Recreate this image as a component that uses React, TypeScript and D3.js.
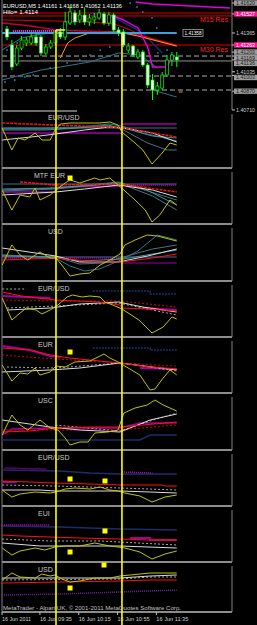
import React from "react";
import * as d3 from "d3";

type P = [number, number];

// ---------- main chart (EURUSD M5) ----------
const candleOpen = [1.41399,1.41263,1.41101,1.41237,1.41280,1.41280,1.41331,1.41331,1.41195,1.41246,1.41280,1.41374,1.41331,1.41450,1.41535,1.41476,1.41518,1.41459,1.41476,1.41493,1.41527,1.41450,1.41518,1.41391,1.41374,1.41220,1.41254,1.41161,1.41203,1.41093,1.40965,1.40880,1.40897,1.41008,1.41135,1.41161];
const candleHigh = [1.41425,1.41305,1.41263,1.41339,1.41331,1.41365,1.41356,1.41348,1.41271,1.41305,1.41391,1.41408,1.41544,1.41603,1.41561,1.41561,1.41578,1.41527,1.41535,1.41569,1.41544,1.41544,1.41535,1.41416,1.41399,1.41280,1.41263,1.41229,1.41220,1.41110,1.41016,1.40948,1.41033,1.41178,1.41203,1.41203];
const candleLow = [1.41305,1.41050,1.41084,1.41220,1.41254,1.41263,1.41254,1.41169,1.41178,1.41229,1.41263,1.41314,1.41305,1.41433,1.41433,1.41450,1.41433,1.41425,1.41442,1.41476,1.41433,1.41425,1.41374,1.41339,1.41246,1.41195,1.41161,1.41144,1.41076,1.40897,1.40795,1.40837,1.40880,1.40991,1.41084,1.41076];
const candleClose = [1.41331,1.41076,1.41237,1.41305,1.41305,1.41331,1.41280,1.41195,1.41246,1.41280,1.41374,1.41331,1.41459,1.41544,1.41459,1.41518,1.41459,1.41493,1.41501,1.41535,1.41450,1.41518,1.41391,1.41365,1.41263,1.41254,1.41178,1.41203,1.41093,1.40922,1.40880,1.40914,1.41008,1.41135,1.41178,1.41136];

const m15Res = [1.41535, 1.41510];
const m30Res = 1.41263;
const cyanLevel = 1.41365;
const dashedLevels = [1.41169, 1.40999, 1.40880];
const bidLevel = 1.41127;

const mainRedA: P[] = [[-1,1.41476],[10,1.41467],[17,1.41459],[22,1.41442],[25,1.41399],[28,1.41339],[31,1.41305],[35,1.41263]];
const mainRedB: P[] = [[-1,1.41450],[5,1.41425],[10,1.41391],[16,1.41382],[22,1.41374],[27,1.41348],[35,1.41254]];
const mainMagenta: P[] = [[21.5,1.41518],[24,1.41476],[27,1.41408],[29,1.41246],[30,1.41076],[33,1.41076],[34,1.41161]];
const mainMagentaTop: P[] = [[26.5,1.41629],[30,1.41612],[46,1.41578]];
const mainOrange: P[] = [[11,1.41152],[12.5,1.41280],[14,1.41322],[17,1.41365],[23,1.41374],[27,1.41339],[35,1.41254]];
const mainNavy: P[] = [[17,1.41535],[22,1.41501],[28,1.41365],[32,1.41195]];
const mainTealLow: P[] = [[-1,1.40965],[7,1.41050],[11,1.41076],[17,1.41118],[23,1.41195],[27.5,1.41178],[31,1.41067]];
const mainTealLow2: P[] = [[30,1.40880],[35,1.40820]];
const mainTealUp: P[] = [[-1,1.41220],[3,1.41322],[7,1.41356],[10,1.41365]];
const mainPinkDots: P[] = [[1.2,1.41382],[10.9,1.41382]];
const mainDots: P[] = [[-0.4,1.40948],[1.6,1.40965],[3.7,1.40991],[5.4,1.41008],[8.9,1.41067],[12.4,1.41110],[15,1.41135],[17.1,1.41178],[19.2,1.41220],[21.2,1.41246],[25.4,1.41620],[26.8,1.41586],[28,1.41544],[29.9,1.41493],[30.9,1.41408],[31.1,1.41195],[33,1.41220],[0,1.41220],[2.1,1.41280]];

const vertBars = [10.1, 23.7];
const vertTopPrices = [1.41391, 1.41365];

const axisPrices = [1.41620, 1.41527, 1.41365, 1.41263, 1.41203, 1.41169, 1.41136, 1.41035, 1.41003, 1.40870, 1.40710];
const axisKinds = ["gray", "pink", "plain", "pink", "gray", "gray", "gray", "plain", "gray", "gray", "plain"];

const timeBars = [-1, 7, 15, 23, 31];
const timeLabels = ["16 Jun 2011", "16 Jun 09:35", "16 Jun 10:15", "16 Jun 10:55", "16 Jun 11:35"];

// ---------- sub windows (bar, level) ----------
const panelLabels = ["EUR/USD", "MTF EUR", "USD", "EUR/USD", "EUR", "USC", "EUR/USD", "EUI", "USD"];

const p1Yellow: P[] = [[-1,40],[1,18],[2.3,30],[3.7,28],[5.8,35],[7.2,28],[8.9,28],[9.9,38],[11,44],[13,45],[15,45],[19,45],[21.2,46],[22.9,43],[23.7,36],[26.4,25],[28,18],[29.9,4],[32,15],[33.6,25],[35,23]];
const p1Red: P[] = [[-1,45],[9.5,43],[21,41],[24,40],[35,31]];
const p1TealA: P[] = [[-1,40],[8,40],[15,41],[21,44],[23.7,42],[28,35],[35,27]];
const p1TealB: P[] = [[-1,38],[8,38],[15,40],[21,43],[24,38],[29,25],[33,18],[35,18]];
const p1TealC: P[] = [[-1,39],[10,39],[21,42],[24,40],[30,32],[35,30]];
const p1White: P[] = [[-1,28],[5,31],[10,34],[16,38],[21,41],[24,40],[30,35],[35,26]];
const p1MagLow: P[] = [[-1,35],[23.5,35]];
const p1MagHigh: P[] = [[23.7,44],[35,44]];
const p1Zero: P[] = [[-1,40],[35,40]];

const p2Yellow: P[] = [[-1,34],[1,14],[2.7,29],[4.7,27],[5.8,36],[6.8,24],[8.9,29],[10.1,34],[12,41],[13,44],[15,41],[18.1,46],[19.2,44],[21.2,46],[22.9,39],[24.1,34],[26.4,24],[28.5,14],[29.9,2],[31.5,9],[33.6,24],[35,19]];
const p2Red: P[] = [[2.7,42],[9.9,39],[23.3,40],[35,32]];
const p2MagDot: P[] = [[23.5,39],[35,39]];
const p2Magenta: P[] = [[-1,32],[9.9,32],[10.5,37],[23.5,38]];
const p2White: P[] = [[-1,29],[10,32],[16,35],[23,39],[30,34],[35,27]];
const p2TealA: P[] = [[-1,34],[10,36],[23,42],[29,33],[35,24]];
const p2TealB: P[] = [[-1,33],[10,35],[23,41],[30,28],[35,14]];
const p2TealC: P[] = [[-1,35],[10,36],[23,41],[28,36],[35,19]];
const p2Zero: P[] = [[-1,40],[35,40]];

const p3Yellow: P[] = [[-1,16],[1,36],[2.7,26],[4.3,21],[6.8,29],[8.9,23],[10.1,23],[11.3,16],[13,5],[15,7],[17.1,8],[19.2,16],[21.2,21],[23.3,27],[24.3,36],[26.4,41],[28.9,46],[31,45],[35,40]];
const p3TealA: P[] = [[-1,26],[10,23],[13,15],[16,10],[19,12],[23,20],[27,30],[31,46],[35,41]];
const p3TealB: P[] = [[-1,26],[10,24],[15,17],[20,18],[24,24],[30,32],[35,36]];
const p3TealC: P[] = [[-1,25],[10,24],[15,20],[24,22],[30,27],[35,31]];
const p3White: P[] = [[-1,33],[10,25],[15,19],[23,19],[29,25],[35,32]];
const p3Red: P[] = [[-1,21],[10,23],[19,19],[23.5,19],[30,23],[35,27]];
const p3MagDot: P[] = [[-1,23],[23.5,23]];
const p3Magenta: P[] = [[23.7,18],[35,18]];
const p3Blue: P[] = [[-1,24],[35,24]];

const p4Yellow: P[] = [[-1,39],[1,17],[2.7,24],[4,29],[6,27],[7.2,23],[8.9,27],[10.5,32],[12.4,40],[13.5,42],[15.5,40],[17.1,41],[19.2,40],[20.2,35],[21.8,32],[23.7,28],[27.2,17],[29.9,4],[32.2,10],[34,20],[35,18]];
const p4Red: P[] = [[-1,45],[3,41],[10,37],[19,35],[23.3,32],[23.7,29],[29,28],[35,26]];
const p4RedDot: P[] = [[-1,37],[10,36],[23.3,36],[35,30]];
const p4MagA: P[] = [[-1,41],[9,39]];
const p4MagB: P[] = [[28,29],[35,27]];
const p4White: P[] = [[0,27],[9,29],[15,33],[23,35],[28,30],[35,25]];
const p4GrayDash: P[] = [[0,29],[10,31],[23,34],[35,22]];
const p4Navy: P[] = [[17.7,46],[29.5,46],[29.5,43],[35,43]];
const p4GrayTop: P[] = [[-1,48],[4,48]];

const p5Yellow: P[] = [[-1,28],[1,12],[2.7,20],[4.3,19],[5.8,25],[6.8,18],[8.9,21],[10.1,27],[12,26],[14,31],[17.1,32],[20,39],[21.2,35],[22.9,31],[24.3,27],[27.4,18],[29.5,3],[30.5,4],[32.2,15],[33.6,23],[35,18]];
const p5Red: P[] = [[-1,45],[4.7,43],[8.9,38],[13,35],[17,33],[23.3,30],[29.5,26],[35,24]];
const p5RedDot: P[] = [[-1,38],[7,35],[23.3,30],[35,27]];
const p5MagA: P[] = [[-1,47],[4.7,43],[8.9,37],[11,36]];
const p5MagB: P[] = [[27.4,25],[35,24]];
const p5GrayDash: P[] = [[0,26],[10,25],[23.3,30],[35,22]];
const p5White: P[] = [[-1,21],[8.9,23],[15,25],[23.3,30],[35,23]];
const p5Navy: P[] = [[17.7,45],[29.5,45],[29.5,43],[35,43]];

const p6Yellow: P[] = [[-1,15],[1,35],[2.7,25],[4.3,20],[6.8,30],[8.9,22],[10.5,20],[12,12],[13,5],[15,8],[16.7,8],[18.1,17],[20.8,18],[22.9,20],[24.1,37],[26.4,42],[28.9,45],[30.5,50],[32.2,45],[35,39]];
const p6White: P[] = [[-1,30],[8.9,23],[15,20],[23.3,18],[29.5,30],[35,36]];
const p6GrayDash: P[] = [[10,25],[23.3,19],[29.5,29],[35,37]];
const p6Red: P[] = [[-1,18],[4.7,19],[9.9,22],[17.1,23],[23.3,23],[35,28]];
const p6RedDot: P[] = [[-1,20],[23.3,20],[35,25]];
const p6Magenta: P[] = [[-1,15],[1,21],[9,22],[23.3,22],[27.4,27],[35,27]];
const p6Navy: P[] = [[-1,10],[27.4,10],[29.5,15],[35,15]];

const p7Navy: P[] = [[-1,36],[10.9,35],[17.1,33],[23.3,32],[35,32]];
const p7Red: P[] = [[-1,25],[4.7,24],[9.9,23],[17.1,22],[23.3,21],[32,21],[32.6,20],[35,20]];
const p7GrayDash: P[] = [[-1,21],[9.9,20],[23.3,18],[35,16]];
const p7White: P[] = [[-1,16],[6.8,16],[9.9,15],[23.3,15],[29.5,14],[35,13]];
const p7Yellow: P[] = [[-1,16],[1,9],[2.7,12],[5.8,14],[8.9,13],[10.1,14],[12,17],[14,18],[17.1,17],[19.2,19],[21.2,16],[22.9,15],[24.3,13],[27.4,10],[29.9,4],[32.6,9],[35,11]];
const p7MagDotA: P[] = [[-0.5,38],[8,37]];
const p7MagDotB: P[] = [[23.7,34],[30,33]];
const p7Magenta: P[] = [[-1,24],[2,24]];

const p8Navy: P[] = [[-1,36],[10.9,35],[17.1,34],[23.3,33],[35,32]];
const p8Red: P[] = [[-1,27],[2.7,26],[8.9,25],[15,24],[23.3,23],[29.5,22],[35,22]];
const p8GrayDash: P[] = [[-1,23],[8.9,21],[19.2,21],[35,17]];
const p8White: P[] = [[-1,19],[6.8,16],[10.9,16],[23.3,16],[35,14]];
const p8Yellow: P[] = [[-1,14],[1,7],[2.7,11],[5.8,14],[7.8,12],[9.9,15],[12,16],[15,16],[18.1,19],[21.2,16],[22.9,15],[24.3,14],[27.4,10],[29.9,3],[32.6,8],[35,11]];
const p8MagDot: P[] = [[-1,37],[8.9,37]];
const p8Magenta: P[] = [[25.4,24],[29.5,24],[29.5,22],[35,22]];

const p9Yellow: P[] = [[-1,32],[1,39],[2.7,35],[5.8,34],[7.2,38],[8.9,36],[9.9,37],[11.3,33],[13,30],[15,31],[18.1,34],[21.2,34],[23.3,36],[25.4,37],[29.5,39],[35,39]];
const p9White: P[] = [[-1,34],[10.9,34],[23.3,34],[29.5,36],[35,37]];
const p9GrayDash: P[] = [[-1,32],[23.3,33],[29.5,35],[35,35]];
const p9Red: P[] = [[-1,29],[10.9,30],[23.3,31],[29.5,32],[35,32]];
const p9NavyDot: P[] = [[-1,17],[10.9,18],[23.3,20],[35,22]];

// yellow markers: [bar, panel, level]
const markers: [number, number, number][] = [[13,1,46],[13,4,41],[13,6,27],[20.2,6,25],[20.2,7,31],[13,7,10],[20,8,47],[13,8,24]];

// ---------- layout ----------
const W = 257, H = 625;
const LEFT = 2, RIGHT = 232;
const panelTops = [110, 168, 224, 281, 337, 393, 450, 506, 562];
const panelBottoms = [168, 224, 281, 337, 393, 450, 506, 562, 612];

const YEL = "#c4c400", RED = "#ff1010", WHITE = "#dcdcdc", TEAL = "#2a7d8a", TEAL2 = "#3f98a0", SLATE = "#557080", MAG = "#a000a8", NAVY = "#1c2c6a", GRAY = "#a8a8a8";

type S = { p: number; d: P[]; c: string; w: number; dash?: string };
const subSeries: S[] = [
  { p: 0, d: p1Zero, c: "#4a6a88", w: 1 },
  { p: 0, d: p1MagLow, c: MAG, w: 1.5 },
  { p: 0, d: p1MagHigh, c: MAG, w: 1.5 },
  { p: 0, d: p1TealA, c: TEAL, w: 1 },
  { p: 0, d: p1TealB, c: SLATE, w: 1 },
  { p: 0, d: p1TealC, c: TEAL2, w: 1 },
  { p: 0, d: p1White, c: WHITE, w: 1 },
  { p: 0, d: p1Red, c: RED, w: 1.5, dash: "3,1" },
  { p: 0, d: p1Yellow, c: YEL, w: 1 },

  { p: 1, d: p2Zero, c: "#4a6a88", w: 1 },
  { p: 1, d: p2Magenta, c: MAG, w: 1.5 },
  { p: 1, d: p2MagDot, c: "#c000c0", w: 1.5, dash: "1,1" },
  { p: 1, d: p2TealA, c: TEAL, w: 1 },
  { p: 1, d: p2TealB, c: SLATE, w: 1 },
  { p: 1, d: p2TealC, c: TEAL2, w: 1 },
  { p: 1, d: p2White, c: WHITE, w: 1 },
  { p: 1, d: p2Red, c: RED, w: 1.5, dash: "3,1" },
  { p: 1, d: p2Yellow, c: YEL, w: 1 },

  { p: 2, d: p3Blue, c: "#4a6a98", w: 1 },
  { p: 2, d: p3MagDot, c: "#c000c0", w: 1.5, dash: "1,1" },
  { p: 2, d: p3Magenta, c: MAG, w: 1 },
  { p: 2, d: p3TealA, c: TEAL, w: 1 },
  { p: 2, d: p3TealB, c: SLATE, w: 1 },
  { p: 2, d: p3TealC, c: TEAL2, w: 1 },
  { p: 2, d: p3White, c: WHITE, w: 1 },
  { p: 2, d: p3Red, c: RED, w: 1 },
  { p: 2, d: p3Yellow, c: YEL, w: 1 },

  { p: 3, d: p4GrayTop, c: GRAY, w: 1, dash: "2,2" },
  { p: 3, d: p4Navy, c: NAVY, w: 1.5, dash: "2,1" },
  { p: 3, d: p4MagA, c: MAG, w: 2 },
  { p: 3, d: p4MagB, c: MAG, w: 2 },
  { p: 3, d: p4RedDot, c: "#d00000", w: 1, dash: "2,2" },
  { p: 3, d: p4GrayDash, c: GRAY, w: 1, dash: "2,2" },
  { p: 3, d: p4White, c: WHITE, w: 1 },
  { p: 3, d: p4Red, c: RED, w: 1 },
  { p: 3, d: p4Yellow, c: YEL, w: 1 },

  { p: 4, d: p5Navy, c: NAVY, w: 1.5, dash: "2,1" },
  { p: 4, d: p5MagA, c: MAG, w: 2 },
  { p: 4, d: p5MagB, c: MAG, w: 2 },
  { p: 4, d: p5RedDot, c: "#d00000", w: 1, dash: "2,2" },
  { p: 4, d: p5GrayDash, c: GRAY, w: 1, dash: "2,2" },
  { p: 4, d: p5White, c: WHITE, w: 1 },
  { p: 4, d: p5Red, c: RED, w: 1 },
  { p: 4, d: p5Yellow, c: YEL, w: 1 },

  { p: 5, d: p6Navy, c: NAVY, w: 1.5 },
  { p: 5, d: p6Magenta, c: MAG, w: 1.5 },
  { p: 5, d: p6RedDot, c: "#d00000", w: 1, dash: "2,2" },
  { p: 5, d: p6GrayDash, c: GRAY, w: 1, dash: "2,2" },
  { p: 5, d: p6White, c: WHITE, w: 1 },
  { p: 5, d: p6Red, c: RED, w: 1 },
  { p: 5, d: p6Yellow, c: YEL, w: 1 },

  { p: 6, d: p7Navy, c: NAVY, w: 1.5 },
  { p: 6, d: p7MagDotA, c: "#c000c0", w: 1.5, dash: "1,1" },
  { p: 6, d: p7MagDotB, c: "#c000c0", w: 1.5, dash: "1,1" },
  { p: 6, d: p7Magenta, c: MAG, w: 2 },
  { p: 6, d: p7GrayDash, c: GRAY, w: 1, dash: "2,2" },
  { p: 6, d: p7White, c: WHITE, w: 1 },
  { p: 6, d: p7Red, c: RED, w: 1 },
  { p: 6, d: p7Yellow, c: YEL, w: 1 },

  { p: 7, d: p8Navy, c: NAVY, w: 1.5 },
  { p: 7, d: p8MagDot, c: "#c000c0", w: 1.5, dash: "1,1" },
  { p: 7, d: p8Magenta, c: MAG, w: 2 },
  { p: 7, d: p8GrayDash, c: GRAY, w: 1, dash: "2,2" },
  { p: 7, d: p8White, c: WHITE, w: 1 },
  { p: 7, d: p8Red, c: RED, w: 1 },
  { p: 7, d: p8Yellow, c: YEL, w: 1 },

  { p: 8, d: p9NavyDot, c: "#6a2a9a", w: 1.5, dash: "1,1" },
  { p: 8, d: p9GrayDash, c: GRAY, w: 1, dash: "2,2" },
  { p: 8, d: p9White, c: WHITE, w: 1 },
  { p: 8, d: p9Red, c: RED, w: 1 },
  { p: 8, d: p9Yellow, c: YEL, w: 1 },
];

const FONT = "'Liberation Sans', 'DejaVu Sans', sans-serif";

export default function App() {
  const x = d3.scaleLinear().domain([0, 35]).range([7, 176.75]);
  const py = d3.scaleLinear().domain([1.4071, 1.41365]).range([110, 33]);
  const levelY = (i: number) =>
    d3.scaleLinear().domain([0, panelBottoms[i] - panelTops[i]]).range([panelBottoms[i], panelTops[i]]);
  const priceLine = d3.line<P>().x((d) => x(d[0])).y((d) => py(d[1]));

  const bw = 3;

  // de-overlap axis labels (sorted top to bottom)
  const LBL_H = 5.4;
  const labelYs: number[] = [];
  axisPrices.forEach((p, i) => {
    let y = py(p);
    if (i > 0 && y < labelYs[i - 1] + LBL_H + 0.3) y = labelYs[i - 1] + LBL_H + 0.3;
    labelYs.push(y);
  });

  return (
    <svg width={W} height={H} style={{ position: "absolute", left: 0, top: 0, background: "#000" }} fontFamily={FONT}>
      <defs>
        <clipPath id="mainClip"><rect x={LEFT} y={0} width={RIGHT - LEFT} height={109} /></clipPath>
        {panelTops.map((t, i) => (
          <clipPath key={i} id={"pc" + i}><rect x={LEFT} y={t + 1} width={RIGHT - LEFT} height={panelBottoms[i] - t - 2} /></clipPath>
        ))}
      </defs>
      <rect x={0} y={0} width={W} height={H} fill="#000" />

      {/* main chart */}
      <g clipPath="url(#mainClip)">
        {m15Res.map((p, i) => (
          <line key={"m15" + i} x1={LEFT} x2={RIGHT} y1={py(p)} y2={py(p)} stroke="#e00000" strokeWidth={1} />
        ))}
        <line x1={LEFT} x2={RIGHT} y1={py(m30Res)} y2={py(m30Res)} stroke="#e00000" strokeWidth={1} />
        {dashedLevels.map((p, i) => (
          <line key={"dl" + i} x1={LEFT} x2={RIGHT} y1={py(p)} y2={py(p)} stroke="#b0b0b0" strokeWidth={1} strokeDasharray="5,3" />
        ))}
        <line x1={LEFT} x2={RIGHT} y1={py(bidLevel)} y2={py(bidLevel)} stroke="#909090" strokeWidth={1} />
        <path d={priceLine(mainTealLow) || ""} fill="none" stroke="#2a7890" strokeWidth={1} />
        <path d={priceLine(mainTealLow2) || ""} fill="none" stroke="#2a7890" strokeWidth={1} />
        <path d={priceLine(mainTealUp) || ""} fill="none" stroke="#2a7890" strokeWidth={1} />
        <path d={priceLine(mainNavy) || ""} fill="none" stroke="#1a2a70" strokeWidth={1.5} />
        <path d={priceLine(mainRedB) || ""} fill="none" stroke="#c0003a" strokeWidth={1.5} />
        <path d={priceLine(mainRedA) || ""} fill="none" stroke="#e00000" strokeWidth={1} />
        <path d={priceLine(mainOrange) || ""} fill="none" stroke="#ff9020" strokeWidth={1} />
        <path d={priceLine(mainMagentaTop) || ""} fill="none" stroke="#e000e0" strokeWidth={1.5} />
        <path d={priceLine(mainMagenta) || ""} fill="none" stroke="#e000e0" strokeWidth={1.5} />
        <line x1={LEFT} x2={x(35)} y1={py(cyanLevel)} y2={py(cyanLevel)} stroke="#3aa0e0" strokeWidth={2} />
        <path d={priceLine(mainPinkDots) || ""} fill="none" stroke="#ff40ff" strokeWidth={2} strokeDasharray="1,1" />
        {mainDots.map((d, i) => (
          <rect key={"dot" + i} x={x(d[0]) - 0.75} y={py(d[1]) - 0.75} width={1.5} height={1.5} fill="#3a8ad0" />
        ))}
        {candleOpen.map((o, i) => {
          const c = candleClose[i];
          const bull = c >= o;
          const top = py(Math.max(o, c));
          const bot = py(Math.min(o, c));
          const cx = x(i);
          return (
            <g key={"c" + i}>
              <line x1={cx} x2={cx} y1={py(candleHigh[i])} y2={py(candleLow[i])} stroke="#00ff00" strokeWidth={1} />
              <rect x={cx - bw / 2} y={top} width={bw} height={Math.max(1, bot - top)} fill={bull ? "#000" : "#ffffff"} stroke="#00ff00" strokeWidth={0.7} />
            </g>
          );
        })}
        <line x1={x(vertBars[0])} x2={x(12)} y1={py(vertTopPrices[0])} y2={py(vertTopPrices[0])} stroke="#ffff00" strokeWidth={1.5} />
        <line x1={x(35) + 2} x2={x(36.2)} y1={py(1.40863)} y2={py(1.40863)} stroke="#ff9020" strokeWidth={1} />
        <text x={3} y={7.5} fontSize={6} fill="#ffffff" textLength={119} lengthAdjust="spacingAndGlyphs">EURUSD,M5  1.41161 1.41168 1.41062 1.41136</text>
        <text x={3} y={14} fontSize={6} fill="#ffffff" textLength={35} lengthAdjust="spacingAndGlyphs">Hilo= 1.4114</text>
        <text x={200} y={22} fontSize={7} fill="#ff2020" textLength={28} lengthAdjust="spacingAndGlyphs">M15 Res</text>
        <text x={200} y={52} fontSize={7} fill="#ff2020" textLength={28} lengthAdjust="spacingAndGlyphs">M30 Res</text>
        <rect x={183} y={py(cyanLevel) - 3.5} width={20} height={7} fill="#000" stroke="#a0a0a0" strokeWidth={0.8} />
        <text x={184.5} y={py(cyanLevel) + 2} fontSize={5.5} fill="#ffffff" textLength={17} lengthAdjust="spacingAndGlyphs">1.41358</text>
      </g>
      <line x1={LEFT} x2={LEFT} y1={0} y2={110} stroke="#808080" strokeWidth={1} />
      <line x1={RIGHT} x2={RIGHT} y1={0} y2={110} stroke="#808080" strokeWidth={1} />
      <line x1={LEFT} x2={77} y1={111} y2={111} stroke="#909090" strokeWidth={1.5} />

      {/* price axis */}
      {axisPrices.map((p, i) => {
        const y = labelYs[i];
        const k = axisKinds[i];
        const label = p.toFixed(5);
        return (
          <g key={"ax" + i}>
            <line x1={RIGHT} x2={RIGHT + 3} y1={py(p)} y2={py(p)} stroke="#c0c0c0" strokeWidth={1} />
            {k !== "plain" && (
              <rect x={RIGHT + 2} y={y - LBL_H / 2} width={W - RIGHT - 2} height={LBL_H} fill={k === "pink" ? "#ff1493" : "#9c9c9c"} />
            )}
            <text x={RIGHT + 4} y={y + 1.8} fontSize={5.2} fill={k === "pink" ? "#ffffff" : k === "gray" ? "#202020" : "#d0d0d0"} textLength={19} lengthAdjust="spacingAndGlyphs">{label}</text>
          </g>
        );
      })}

      {/* sub windows */}
      {panelTops.map((t, i) => (
        <g key={"pf" + i}>
          <line x1={LEFT} x2={RIGHT} y1={panelBottoms[i]} y2={panelBottoms[i]} stroke="#8c8c8c" strokeWidth={2} />
          <line x1={LEFT} x2={LEFT} y1={t} y2={panelBottoms[i]} stroke="#808080" strokeWidth={1} />
          <line x1={RIGHT} x2={RIGHT} y1={t + 4} y2={panelBottoms[i]} stroke="#808080" strokeWidth={1} />
          <text x={i === 1 ? 34 : i < 3 ? 48 : 38} y={t + 10} fontSize={7} fill="#c8c8c8">{panelLabels[i]}</text>
        </g>
      ))}
      {subSeries.map((s, j) => {
        const ly = levelY(s.p);
        const gen = d3.line<P>().x((d) => x(d[0])).y((d) => ly(d[1]));
        return (
          <path key={"s" + j} clipPath={`url(#pc${s.p})`} d={gen(s.d) || ""} fill="none" stroke={s.c} strokeWidth={s.w} strokeDasharray={s.dash} />
        );
      })}

      {/* vertical yellow lines */}
      {vertBars.map((b, i) => (
        <line key={"v" + i} x1={x(b)} x2={x(b)} y1={py(vertTopPrices[i])} y2={H} stroke="#ffff00" strokeWidth={1.6} />
      ))}

      {markers.map((m, i) => {
        const ly = levelY(m[1]);
        return <rect key={"mk" + i} x={x(m[0]) - 2.5} y={ly(m[2]) - 2.5} width={5} height={5} fill="#ffff00" />;
      })}

      {/* footer */}
      <text x={3} y={610} fontSize={5.5} fill="#c0c0c0" textLength={178} lengthAdjust="spacingAndGlyphs">MetaTrader - Alpari UK, © 2001-2011 MetaQuotes Software Corp.</text>
      {timeBars.map((b, i) => {
        const tx = i === 0 ? 2 : x(b) - 1;
        return (
          <g key={"t" + i}>
            <line x1={tx} x2={tx} y1={612} y2={615} stroke="#c0c0c0" strokeWidth={1} />
            <text x={tx} y={621} fontSize={5.8} fill="#d0d0d0" textLength={i === 0 ? 29 : 32} lengthAdjust="spacingAndGlyphs">{timeLabels[i]}</text>
          </g>
        );
      })}
    </svg>
  );
}
